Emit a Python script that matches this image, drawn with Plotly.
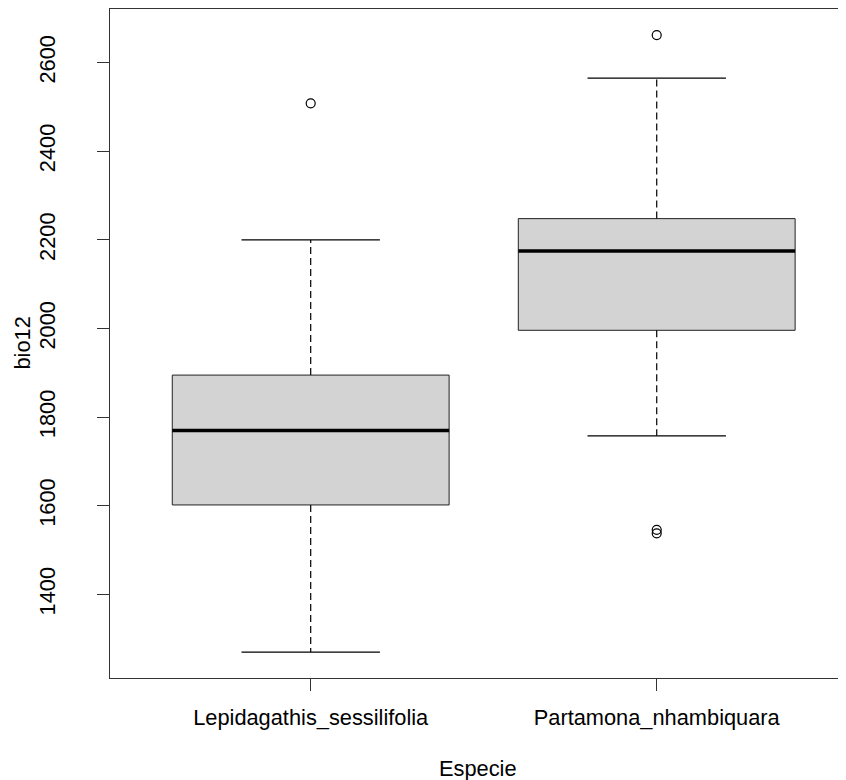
import plotly.graph_objects as go

# ---- data ----
species = ["Lepidagathis_sessilifolia", "Partamona_nhambiquara"]
lower_whisker = [1270, 1758]
q1 = [1602, 1996]
median = [1770, 2175]
q3 = [1895, 2248]
upper_whisker = [2200, 2565]
outliers = [[2508], [2662, 1546, 1538]]

y_ticks = [1400, 1600, 1800, 2000, 2200, 2400, 2600]

FONT = "Liberation Sans, Arial, sans-serif"
FS = 21.8
BOX_HALF = 0.4
CAP_HALF = 0.2

fig = go.Figure()
for i, name in enumerate(species):
    xc = i + 1
    # box body
    fig.add_trace(go.Scatter(
        x=[xc - BOX_HALF, xc + BOX_HALF, xc + BOX_HALF, xc - BOX_HALF, xc - BOX_HALF],
        y=[q1[i], q1[i], q3[i], q3[i], q1[i]],
        mode="lines", fill="toself", fillcolor="#D3D3D3",
        line=dict(color="#222222", width=1), hoverinfo="skip", showlegend=False))
    # median
    fig.add_trace(go.Scatter(
        x=[xc - BOX_HALF, xc + BOX_HALF], y=[median[i], median[i]],
        mode="lines", line=dict(color="black", width=3.5), showlegend=False))
    # whiskers (dashed)
    fig.add_trace(go.Scatter(
        x=[xc, xc, None, xc, xc],
        y=[q3[i], upper_whisker[i], None, q1[i], lower_whisker[i]],
        mode="lines", line=dict(color="black", width=1.2, dash="7px,4px"),
        showlegend=False))
    # caps
    fig.add_trace(go.Scatter(
        x=[xc - CAP_HALF, xc + CAP_HALF, None, xc - CAP_HALF, xc + CAP_HALF],
        y=[upper_whisker[i], upper_whisker[i], None, lower_whisker[i], lower_whisker[i]],
        mode="lines", line=dict(color="black", width=1.2), showlegend=False))
    # outliers
    fig.add_trace(go.Scatter(
        x=[xc] * len(outliers[i]), y=outliers[i], mode="markers",
        marker=dict(symbol="circle-open", size=9, color="black",
                    line=dict(width=1.2)),
        showlegend=False))

# page body has an 8px margin; figure is sized/offset to compensate
fig.update_layout(
    width=838, height=772,
    margin=dict(l=102, r=0, t=1, b=102),
    paper_bgcolor="white", plot_bgcolor="white",
    font=dict(family=FONT, size=FS, color="black"),
    showlegend=False,
    xaxis=dict(
        range=[0.420, 2.547], tickvals=[1, 2], ticktext=species,
        showgrid=False, zeroline=False,
        showline=True, mirror=True, linecolor="#333333", linewidth=1.2,
        ticks="outside", ticklen=12, tickcolor="#333333", tickwidth=1.2,
        ticklabelstandoff=8,
        tickfont=dict(family=FONT, size=FS, color="black"),
    ),
    yaxis=dict(
        range=[1211.6, 2720.9], tickvals=y_ticks,
        ticktext=[str(v) for v in y_ticks],
        showgrid=False, zeroline=False,
        showline=True, mirror=False, linecolor="#333333", linewidth=1.2,
        ticks="outside", ticklen=12, tickcolor="#333333", tickwidth=1.2,
        tickangle=-90, ticklabelstandoff=33,
        tickfont=dict(family=FONT, size=FS, color="black"),
    ),
    annotations=[
        dict(text="Especie", xref="paper", yref="paper", x=0.5, y=0,
             xanchor="center", yanchor="middle", yshift=-90, showarrow=False,
             font=dict(family=FONT, size=FS, color="black")),
        dict(text="bio12", xref="paper", yref="paper", x=0, y=0.5,
             xanchor="center", yanchor="middle", xshift=-88, textangle=-90,
             showarrow=False, font=dict(family=FONT, size=FS, color="black")),
    ],
)

fig.write_html("out.html")
